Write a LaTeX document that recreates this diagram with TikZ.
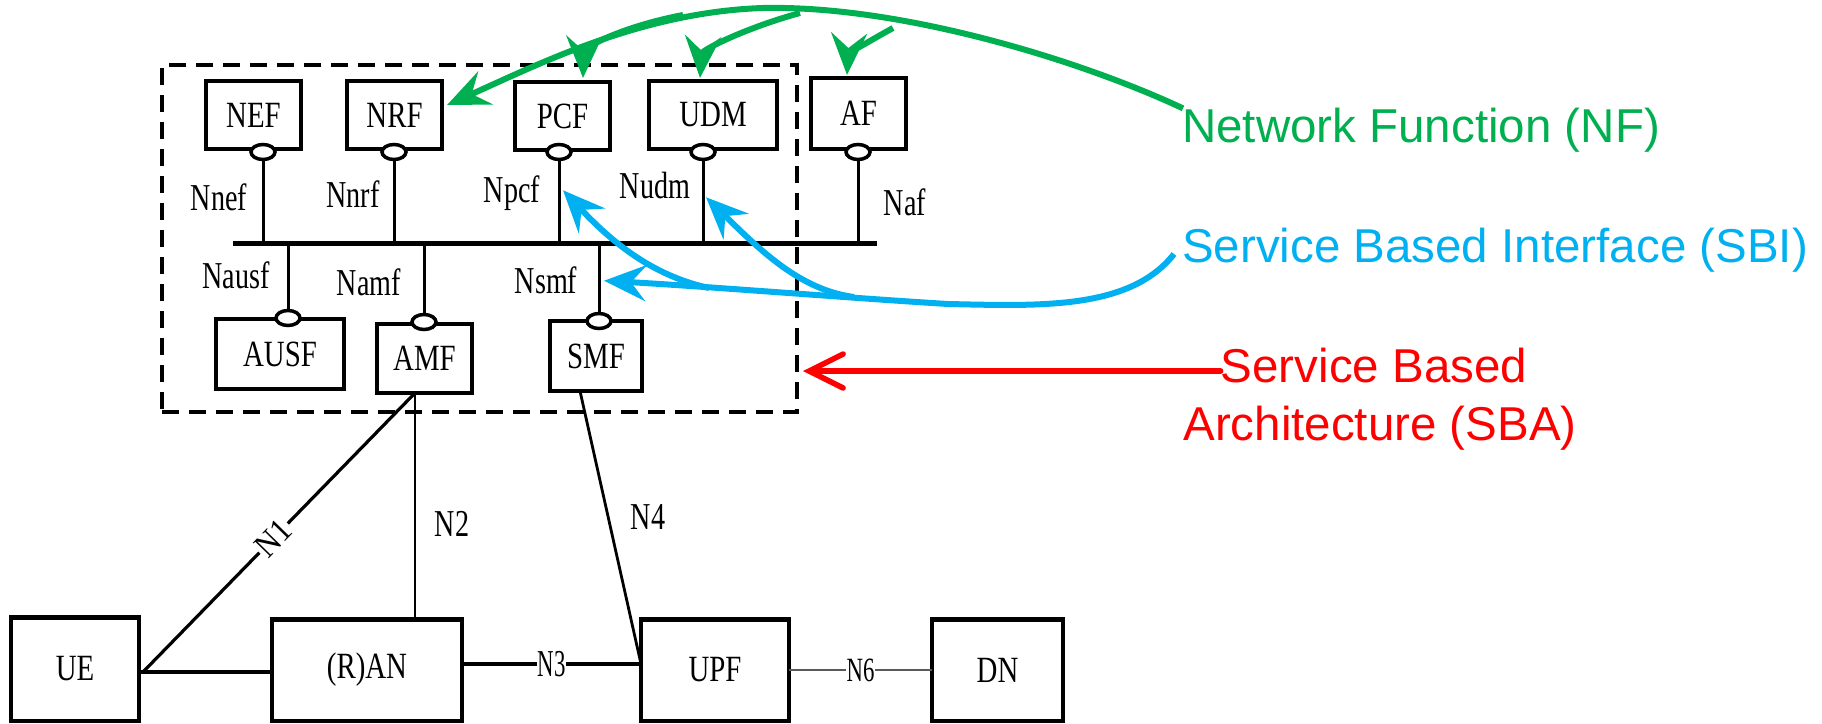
\documentclass[tikz,border=0pt]{standalone}
\usepackage{fontspec}
\usepackage{graphicx}
\setmainfont{Liberation Serif}
\newfontfamily\arialf{Liberation Sans}
\usetikzlibrary{arrows.meta,shapes.geometric,calc}
\definecolor{nfgreen}{RGB}{0,176,80}
\definecolor{sbiblue}{RGB}{0,176,240}
\definecolor{sbared}{RGB}{255,0,0}
\definecolor{linkgray}{RGB}{90,90,90}
% condensed serif labels
\newcommand\bx[1]{\scalebox{0.78}[1]{#1}}
\newcommand\ifl[1]{\scalebox{0.74}[1]{#1}}

\begin{document}
\begin{tikzpicture}[x=1pt,y=-1pt,
  nfbox/.style={draw, line width=3.5pt, inner sep=0pt, outer sep=0pt,
    font=\fontsize{37}{41}\selectfont},
  socket/.style={ellipse, draw, fill=white, line width=3.5pt, inner sep=0pt,
    minimum width=24pt, minimum height=15pt},
  iflabel/.style={inner sep=0pt, anchor=base, font=\fontsize{38}{42}\selectfont},
  stub/.style={line width=3pt},
  busline/.style={line width=5pt},
  link/.style={line width=2.8pt},
  heavylink/.style={line width=4.5pt},
  sbaframe/.style={draw, dash pattern=on 17pt off 10pt, line width=3.5pt,
    inner sep=0pt, outer sep=0pt},
  nfarrow/.style={draw=nfgreen, line width=6pt,
    -{Stealth[length=42pt,width=36pt,inset=15pt]}},
  sbiarrow/.style={draw=sbiblue, line width=6pt,
    -{Stealth[length=42pt,width=36pt,inset=15pt]}},
  sbaarrow/.style={draw=sbared, line width=5.5pt, line cap=round,
    -{Straight Barb[length=34pt,width=34pt,line cap=round]}},
  legend/.style={inner sep=0pt, anchor=base west,
    font=\arialf\fontsize{47.5}{58}\selectfont}
]
\useasboundingbox (0,0) rectangle (1822,723);

% dashed frame of the service based architecture
\node[sbaframe, minimum width=635pt, minimum height=347pt] (frame) at (479.5,238.5) {};

% bus
\coordinate (busL) at (233,243);
\coordinate (busR) at (877,243);
\draw[busline] (busL) -- (busR);

% upper network functions
\node[nfbox, minimum width=95pt, minimum height=68pt] (NEF) at (253.5,115) {\bx{NEF}};
\node[nfbox, minimum width=95pt, minimum height=68pt] (NRF) at (394.5,115) {\bx{NRF}};
\node[nfbox, minimum width=95pt, minimum height=68pt] (PCF) at (562.5,116) {\bx{PCF}};
\node[nfbox, minimum width=128pt, minimum height=68pt] (UDM) at (713,115) {\bx{UDM}};
\node[nfbox, minimum width=95pt, minimum height=71pt] (AF) at (858.5,113.5) {\bx{AF}};

\node[socket] (sNEF) at (263,152) {};
\node[socket] (sNRF) at (394,152) {};
\node[socket] (sPCF) at (559,152) {};
\node[socket] (sUDM) at (703,152) {};
\node[socket] (sAF)  at (858,152) {};

\foreach \s in {sNEF,sNRF,sPCF,sUDM,sAF}
  \draw[stub] (\s.south) -- (\s.south |- busL);

% lower network functions
\node[nfbox, minimum width=128pt, minimum height=70pt] (AUSF) at (280,354) {\bx{AUSF}};
\node[nfbox, minimum width=95pt, minimum height=69pt] (AMF) at (424.5,358.5) {\bx{AMF}};
\node[nfbox, minimum width=92pt, minimum height=70pt] (SMF) at (596,356) {\bx{SMF}};

\node[socket] (sAUSF) at (288,318) {};
\node[socket] (sAMF)  at (424,322) {};
\node[socket] (sSMF)  at (599,321) {};

\foreach \s in {sAUSF,sAMF,sSMF}
  \draw[stub] (\s.north) -- (\s.north |- busL);

% service interface names
\node[iflabel] at (219,210) {\ifl{Nnef}};
\node[iflabel] at (353,207) {\ifl{Nnrf}};
\node[iflabel] at (512,202) {\ifl{Npcf}};
\node[iflabel] at (655,198) {\ifl{Nudm}};
\node[iflabel] at (905,215) {\ifl{Naf}};
\node[iflabel] at (236,288) {\ifl{Nausf}};
\node[iflabel] at (369,295) {\ifl{Namf}};
\node[iflabel] at (546,293) {\ifl{Nsmf}};

% access and user plane
\node[nfbox, minimum width=128pt, minimum height=104pt] (UE) at (75,669) {\bx{UE}};
\node[nfbox, minimum width=190pt, minimum height=102pt] (RAN) at (367,670) {\bx{(R)AN}};
\node[nfbox, minimum width=148pt, minimum height=102pt] (UPF) at (715,670) {\bx{UPF}};
\node[nfbox, minimum width=131pt, minimum height=102pt] (DN) at (997.5,670) {\bx{DN}};
\foreach \b in {UE,RAN,UPF,DN}
  \draw[line width=5pt] (\b.north west) -- (\b.north east);

\coordinate (amfFoot) at ($(AMF.south)+(-9.5,0)$);
\coordinate (smfFoot) at ($(SMF.south)+(-16,0)$);
\coordinate (upfIn) at ($(UPF.west)+(0,-6)$);
\coordinate (ranOut) at ($(RAN.east)+(0,-6)$);
\coordinate (ueOut) at ($(UE.east)+(0,3)$);
\coordinate (ueJoin) at ($(UE.east)+(4,3)$);

\draw[link, line width=3.2pt] (amfFoot) -- node[pos=0.52, sloped, fill=white, inner sep=1.5pt,
  font=\fontsize{34}{38}\selectfont] {\scalebox{0.9}[1]{N1}} (ueJoin);
\draw[link] (amfFoot) -- (amfFoot |- RAN.north);
\node[iflabel] at (452,536) {\ifl{N2}};
\draw[link] (smfFoot) -- (upfIn);
\node[iflabel] at (648,529) {\ifl{N4}};
\draw[heavylink] (ueOut) -- ($(RAN.west)+(0,2)$);
\draw[heavylink] (ranOut) -- node[fill=white, inner sep=1pt,
  font=\fontsize{38}{42}\selectfont] {\scalebox{0.6}[1]{N3}} (upfIn);
\draw[draw=linkgray, line width=1.8pt] (UPF.east) -- node[fill=white, inner sep=1pt,
  font=\fontsize{34}{38}\selectfont] {\scalebox{0.67}[1]{N6}} (DN.west);

% legend texts
\node[legend, text=nfgreen] (NF) at (1182,142) {Network Function (NF)};
\node[legend, text=sbiblue] (SBI) at (1182,262) {Service Based Interface (SBI)};
\node[legend, text=sbared, anchor=base] (SBA1) at (1374,382) {Service Based};
\node[legend, text=sbared, anchor=base] (SBA2) at (1380,440) {Architecture (SBA)};

% network function pointers
\coordinate (gTail) at ($(NF.north west)+(1,1)$);
\coordinate (gTop) at (763,8);
\coordinate (gPcfFork) at (683,15);
\coordinate (gUdmFork) at (800,13);
\coordinate (gAfFork) at (893,28);
\draw[nfarrow] (gTail) .. controls (1080,60) and (900,5) .. (gTop)
  .. controls (640,12) and (535,66) .. ($(NRF.east)+(5,-10)$);
\draw[nfarrow] (gPcfFork) .. controls (630,25) and (584,45) .. ($(PCF.north)+(20.5,-4)$);
\draw[nfarrow] (gUdmFork) .. controls (745,28) and (702,50) .. ($(UDM.north)+(-13,-3)$);
\draw[nfarrow] (gAfFork) .. controls (862,45) and (848,55) .. ($(AF.north)+(-11.5,-3)$);

% service based interface pointers
\coordinate (bTail) at ($(SBI.base west)+(-8,-8)$);
\coordinate (bLow) at (948,304);
\coordinate (bUdmFork) at (854,297);
\coordinate (bPcfFork) at (709,288);
\draw[sbiarrow] (bTail) .. controls (1130,310) and (1040,306) .. (bLow)
  .. controls (850,298) and (700,286) .. ($(sSMF.north)+(5,-31)$);
\draw[sbiarrow] (bUdmFork) .. controls (800,290) and (760,250) .. ($(sUDM.south)+(3,36)$);
\draw[sbiarrow] (bPcfFork) .. controls (650,275) and (610,240) .. ($(sPCF.south)+(4,29)$);

% architecture pointer
\coordinate (redTip) at ($(frame.south east)+(6,-41)$);
\draw[sbaarrow] ($(SBA1.base west)+(0,-11)$) -- (redTip);
\end{tikzpicture}
\end{document}
